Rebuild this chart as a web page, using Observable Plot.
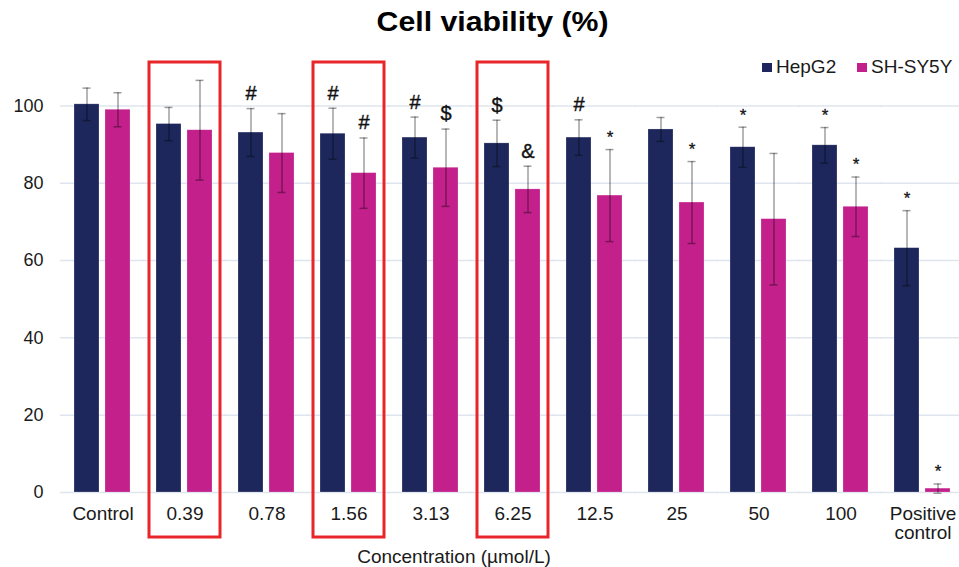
<!DOCTYPE html>
<html>
<head>
<meta charset="utf-8">
<script src="https://cdn.jsdelivr.net/npm/d3@7"></script>
<script src="https://cdn.jsdelivr.net/npm/@observablehq/plot@0.6"></script>
<style>
  html, body { margin: 0; padding: 0; background: #fff; }
  body { width: 959px; height: 567px; position: relative; overflow: hidden; font-family: "Liberation Sans", Arial, sans-serif; }
  #title { height: 45px; line-height: 45px; box-sizing: border-box; padding-left: 26px; text-align: center; }
  #title span { display: inline-block; font-size: 27px; font-weight: bold; color: #000; transform: scaleX(1.12); }
  #legend .sw { position: absolute; width: 10px; height: 9px; top: 63px; }
  #legend .lb { position: absolute; top: 56px; font-size: 19px; line-height: 22px; color: #1a1a1a; }
  #caption { position: absolute; left: 0; top: 546px; width: 908px; text-align: center; font-size: 19px; line-height: 22px; color: #1a1a1a; }
  #chart svg { display: block; overflow: visible; }
</style>
</head>
<body>
<div id="title"><span>Cell viability (%)</span></div>
<div id="chart"></div>
<div id="legend"></div>
<div id="caption">Concentration (µmol/L)</div>
<script>
const categories = ["Control", "0.39", "0.78", "1.56", "3.13", "6.25", "12.5", "25", "50", "100", "Positive control"];
const series = ["HepG2", "SH-SY5Y"];
const seriesColors = ["#1e275b", "#c4208c"];
const hepg2 = [100.4, 95.3, 93.1, 92.8, 91.8, 90.3, 91.8, 93.9, 89.3, 89.8, 63.2];
const hepg2Sd = [4.2, 4.3, 6.2, 6.6, 5.3, 6.0, 4.6, 3.1, 5.2, 4.6, 9.7];
const shsy5y = [99.0, 93.7, 87.8, 82.6, 84.0, 78.4, 76.8, 75.0, 70.7, 73.9, 1.0];
const shsy5ySd = [4.4, 12.9, 10.2, 9.1, 10.0, 6.0, 11.9, 10.6, 17.0, 7.7, 1.2];
const hepg2Marks = ["", "", "#", "#", "#", "$", "#", "", "*", "*", "*"];
const shsy5yMarks = ["", "", "", "#", "$", "&", "*", "*", "", "*", "*"];
const highlighted = ["0.39", "1.56", "6.25"];
const yTicks = [0, 20, 40, 60, 80, 100];

const rows = [];
categories.forEach((c, i) => {
  rows.push({cat: c, series: series[0], value: hepg2[i], sd: hepg2Sd[i], mark: hepg2Marks[i]});
  rows.push({cat: c, series: series[1], value: shsy5y[i], sd: shsy5ySd[i], mark: shsy5yMarks[i]});
});
rows.forEach(d => { d.lo = d.value - d.sd; d.hi = d.value + d.sd; });

const starRows = rows.filter(d => d.mark === "*");
const symRows = rows.filter(d => d.mark && d.mark !== "*");

const chart = Plot.plot({
  width: 959,
  height: 505,
  marginLeft: 74,
  marginRight: 8,
  marginTop: 14,
  marginBottom: 58,
  style: {fontFamily: "'Liberation Sans', Arial, sans-serif", fontSize: "18px", color: "#1a1a1a", background: "transparent"},
  fx: {domain: categories, paddingInner: 0.31, paddingOuter: 0, label: null, tickSize: 0, tickPadding: 14,
       tickFormat: d => d === "Positive control" ? "Positive\ncontrol" : d},
  x: {domain: series, paddingInner: 0.18, paddingOuter: 0, axis: null},
  y: {domain: [0, 112], ticks: yTicks, tickSize: 0, tickPadding: 31, label: null, line: false},
  color: {domain: series, range: seriesColors},
  marks: [
    Plot.ruleY(yTicks, {y: d => d, stroke: "#dfe5ee", strokeWidth: 1.5, insetLeft: -14, insetRight: -13}),
    Plot.barY(rows, {fx: "cat", x: "series", y: "value", fill: "series", stroke: "#ffffff", strokeOpacity: 0.35, strokeWidth: 0.6}),
    Plot.ruleX(rows, {fx: "cat", x: "series", y1: "lo", y2: "hi", stroke: "#000", strokeOpacity: 0.38, strokeWidth: 1.5}),
    Plot.tickY(rows, {fx: "cat", x: "series", y: "hi", stroke: "#000", strokeOpacity: 0.38, strokeWidth: 1.5, insetLeft: 8.5, insetRight: 8.5}),
    Plot.tickY(rows, {fx: "cat", x: "series", y: "lo", stroke: "#000", strokeOpacity: 0.38, strokeWidth: 1.5, insetLeft: 8.5, insetRight: 8.5}),
    Plot.text(symRows, {fx: "cat", x: "series", y: "hi", text: "mark", dy: -15, fontSize: 20, fill: "#111", stroke: "#111", strokeWidth: 0.4}),
    Plot.text(starRows, {fx: "cat", x: "series", y: "hi", text: "mark", dy: -12, fontSize: 17, fill: "#111", stroke: "#111", strokeWidth: 0.3}),
    Plot.rect(highlighted, {fx: d => d, stroke: "#e8262a", strokeWidth: 3, fill: "none", insetLeft: -7, insetRight: -7, insetTop: 3, insetBottom: -45})
  ]
});
document.getElementById("chart").appendChild(chart);

// facet (x) tick labels slightly larger than the y tick labels
chart.querySelectorAll('g[aria-label^="fx-axis"]').forEach(el => el.setAttribute("font-size", "19"));

// legend built from series arrays
const legend = document.getElementById("legend");
const legendPos = [[762, 776], [857, 871]];
series.forEach((s, i) => {
  const sw = document.createElement("div");
  sw.className = "sw";
  sw.style.left = legendPos[i][0] + "px";
  sw.style.background = seriesColors[i];
  legend.appendChild(sw);
  const lb = document.createElement("div");
  lb.className = "lb";
  lb.style.left = legendPos[i][1] + "px";
  lb.textContent = s;
  legend.appendChild(lb);
});
</script>
</body>
</html>
